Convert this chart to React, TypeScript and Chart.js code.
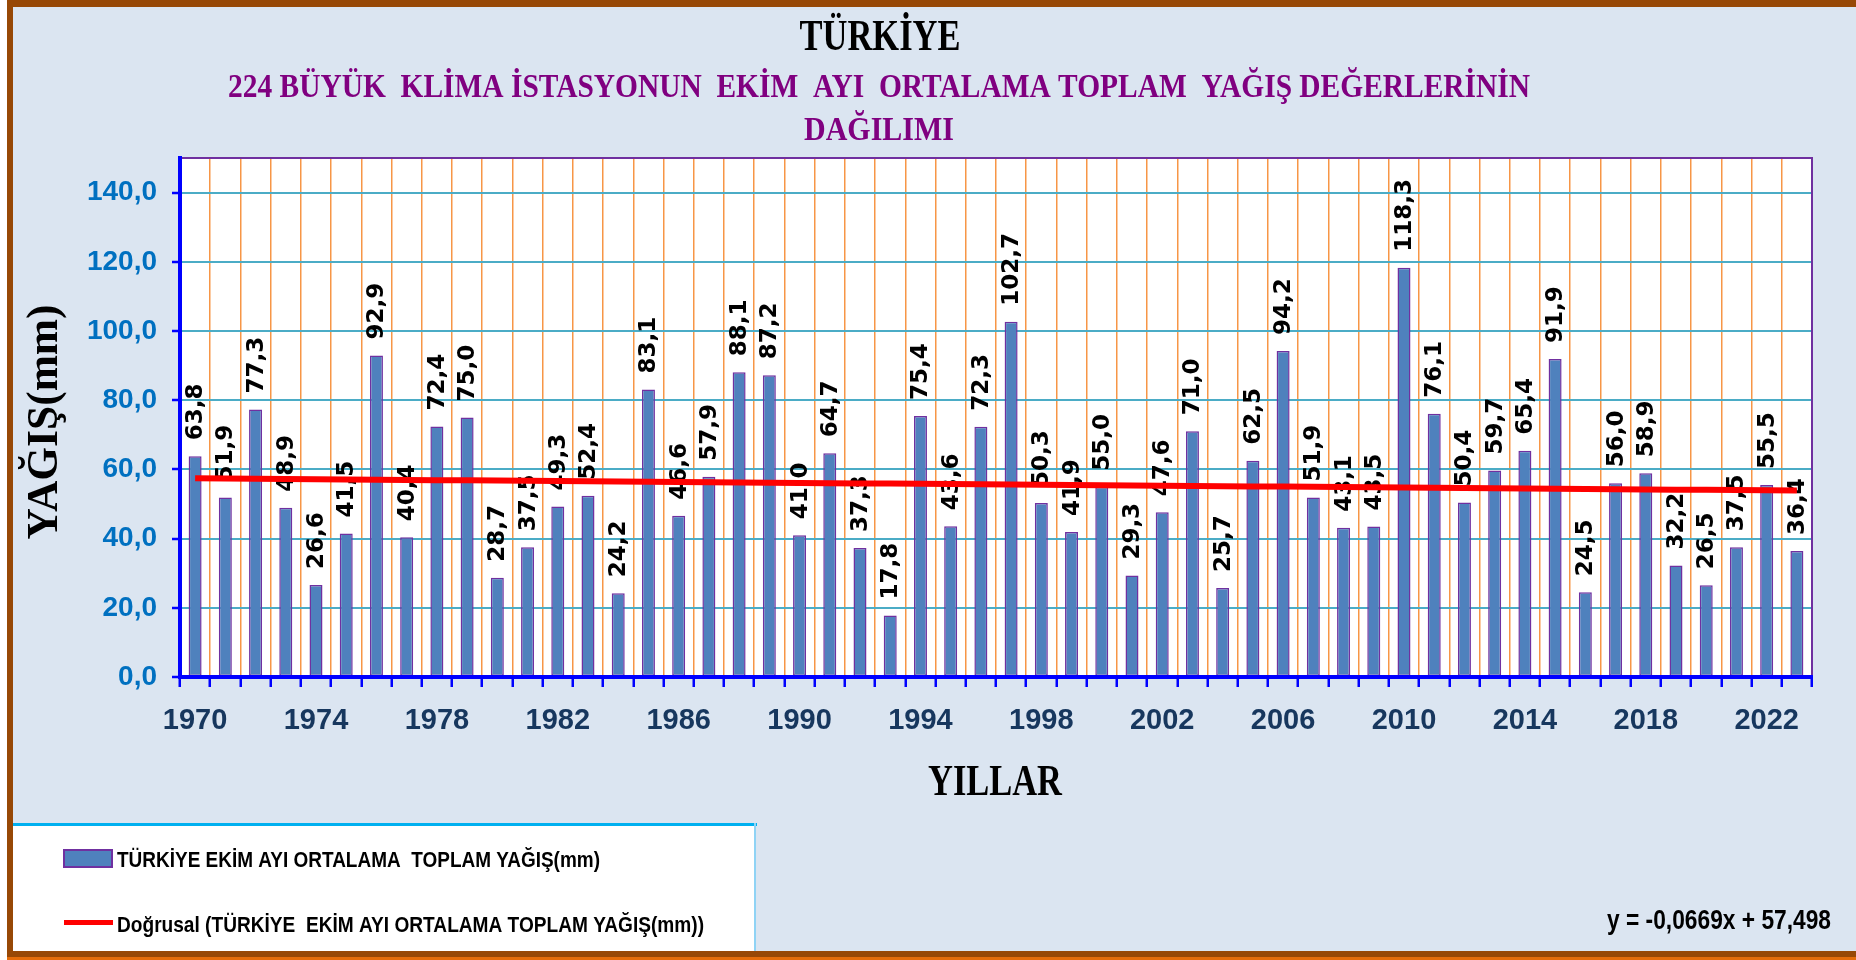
import React, { useEffect, useRef } from 'react';
import { Chart, registerables } from 'chart.js';

Chart.register(...registerables);

// ---------- data ----------
const YEARS: number[] = [
  1970, 1971, 1972, 1973, 1974, 1975, 1976, 1977, 1978, 1979,
  1980, 1981, 1982, 1983, 1984, 1985, 1986, 1987, 1988, 1989,
  1990, 1991, 1992, 1993, 1994, 1995, 1996, 1997, 1998, 1999,
  2000, 2001, 2002, 2003, 2004, 2005, 2006, 2007, 2008, 2009,
  2010, 2011, 2012, 2013, 2014, 2015, 2016, 2017, 2018, 2019,
  2020, 2021, 2022, 2023,
];

const RAIN: number[] = [
  63.8, 51.9, 77.3, 48.9, 26.6, 41.5, 92.9, 40.4, 72.4, 75.0,
  28.7, 37.5, 49.3, 52.4, 24.2, 83.1, 46.6, 57.9, 88.1, 87.2,
  41.0, 64.7, 37.3, 17.8, 75.4, 43.6, 72.3, 102.7, 50.3, 41.9,
  55.0, 29.3, 47.6, 71.0, 25.7, 62.5, 94.2, 51.9, 43.1, 43.5,
  118.3, 76.1, 50.4, 59.7, 65.4, 91.9, 24.5, 56.0, 58.9, 32.2,
  26.5, 37.5, 55.5, 36.4,
];

// linear trend shown in the chart: y = -0,0669x + 57,498 (x = 1..n)
const TREND_SLOPE = -0.0669;
const TREND_INTERCEPT = 57.498;

const Y_MIN = 0;
const Y_MAX = 150;
const Y_STEP = 20;
const X_LABEL_EVERY = 4;

const TITLE_1 = 'TÜRKİYE';
const TITLE_2 = '224 BÜYÜK  KLİMA İSTASYONUN  EKİM  AYI  ORTALAMA TOPLAM  YAĞIŞ DEĞERLERİNİN';
const TITLE_3 = 'DAĞILIMI';
const X_TITLE = 'YILLAR';
const Y_TITLE = 'YAĞIŞ(mm)';
const LEGEND_BAR = 'TÜRKİYE EKİM AYI ORTALAMA  TOPLAM YAĞIŞ(mm)';
const LEGEND_TREND = 'Doğrusal (TÜRKİYE  EKİM AYI ORTALAMA TOPLAM YAĞIŞ(mm))';
const EQUATION = 'y = -0,0669x + 57,498';

// ---------- style ----------
const W = 1856;
const H = 960;
const BG = '#DBE5F1';
const BROWN = '#974806';
const ORANGE_EDGE = '#E46C0A';
const BAR_FILL = '#4F81BD';
const BAR_BORDER = '#7030A0';
const AXIS_BLUE = '#0000FF';
const GRID_TEAL = '#4BACC6';
const GRID_ORANGE = '#F79646';
const TITLE_PURPLE = '#800080';
const NARROW = "'Liberation Sans Narrow', 'Liberation Sans', sans-serif";
const SERIF = "'Liberation Serif', 'DejaVu Serif', serif";

const fmt = (v: number) => v.toFixed(1).replace('.', ',');

function drawFitText(
  ctx: CanvasRenderingContext2D,
  text: string,
  font: string,
  color: string,
  x: number,
  y: number,
  width: number,
  align: CanvasTextAlign,
  rotate = 0,
) {
  ctx.save();
  ctx.font = font;
  ctx.fillStyle = color;
  ctx.textBaseline = 'alphabetic';
  ctx.textAlign = align;
  const m = ctx.measureText(text).width || 1;
  ctx.translate(x, y);
  if (rotate) ctx.rotate(rotate);
  ctx.scale(width / m, 1);
  ctx.fillText(text, 0, 0);
  ctx.restore();
}

const framePlugin = {
  id: 'frame',
  beforeDraw(chart: any) {
    const ctx: CanvasRenderingContext2D = chart.ctx;
    const { left, top, right, bottom } = chart.chartArea;
    ctx.save();
    ctx.fillStyle = '#FFFFFF';
    ctx.fillRect(0, 0, W, H);
    ctx.fillStyle = BG;
    ctx.fillRect(7, 0, W - 7, 957);
    ctx.fillStyle = ORANGE_EDGE;
    ctx.fillRect(7, 957, W - 7, 3);
    ctx.fillStyle = BROWN;
    ctx.fillRect(7, 0, W - 7, 7);
    ctx.fillRect(7, 0, 6, 957);
    ctx.fillRect(7, 951, W - 7, 6);
    // plot area
    ctx.fillStyle = '#FFFFFF';
    ctx.fillRect(left, top, right - left, bottom - top);
    // legend box
    ctx.fillStyle = '#FFFFFF';
    ctx.fillRect(13, 824, 742, 127);
    ctx.fillStyle = '#00B0F0';
    ctx.fillRect(13, 823, 744, 3);
    ctx.fillStyle = '#8FD3F5';
    ctx.fillRect(754, 823, 2, 128);
    ctx.restore();
  },
};

const barLabelPlugin = {
  id: 'barLabels',
  afterDatasetDraw(chart: any, args: any) {
    if (args.index !== 0) return;
    const ctx: CanvasRenderingContext2D = chart.ctx;
    ctx.save();
    ctx.font = "bold 23px 'DejaVu Sans', sans-serif";
    ctx.fillStyle = '#000000';
    ctx.textAlign = 'left';
    ctx.textBaseline = 'middle';
    args.meta.data.forEach((bar: any, i: number) => {
      ctx.save();
      ctx.translate(bar.x + 1, bar.y - 16);
      ctx.rotate(-Math.PI / 2);
      ctx.fillText(fmt(RAIN[i]), 0, 0);
      ctx.restore();
    });
    ctx.restore();
  },
};

const axesPlugin = {
  id: 'axesOverlay',
  afterDatasetsDraw(chart: any) {
    const ctx: CanvasRenderingContext2D = chart.ctx;
    const { left, top, right, bottom } = chart.chartArea;
    ctx.save();
    ctx.lineCap = 'butt';
    ctx.strokeStyle = BAR_BORDER;
    ctx.lineWidth = 2;
    ctx.beginPath();
    ctx.moveTo(left, top);
    ctx.lineTo(right, top);
    ctx.lineTo(right, bottom);
    ctx.stroke();
    ctx.strokeStyle = AXIS_BLUE;
    ctx.lineWidth = 4;
    ctx.beginPath();
    ctx.moveTo(left, top - 1);
    ctx.lineTo(left, bottom + 2);
    ctx.moveTo(left - 2, bottom);
    ctx.lineTo(right + 1, bottom);
    ctx.stroke();
    ctx.restore();
  },
};

const textPlugin = {
  id: 'texts',
  afterDraw(chart: any) {
    const ctx: CanvasRenderingContext2D = chart.ctx;
    drawFitText(ctx, TITLE_1, `bold 45px ${SERIF}`, '#000000', 880, 50, 161, 'center');
    drawFitText(ctx, TITLE_2, `bold 34px ${SERIF}`, TITLE_PURPLE, 879, 97, 1302, 'center');
    drawFitText(ctx, TITLE_3, `bold 34px ${SERIF}`, TITLE_PURPLE, 879, 140, 150, 'center');
    drawFitText(ctx, X_TITLE, `bold 45px ${SERIF}`, '#000000', 995, 795, 134, 'center');
    drawFitText(ctx, Y_TITLE, `bold 44px ${SERIF}`, '#000000', 57, 422, 235, 'center', -Math.PI / 2);

    // legend
    ctx.save();
    ctx.fillStyle = BAR_FILL;
    ctx.fillRect(64, 850, 48, 17);
    ctx.strokeStyle = BAR_BORDER;
    ctx.lineWidth = 2;
    ctx.strokeRect(64, 850, 48, 17);
    ctx.fillStyle = '#FF0000';
    ctx.fillRect(64, 920, 49, 5);
    ctx.restore();
    drawFitText(ctx, LEGEND_BAR, `bold 22px ${NARROW}`, '#000000', 117, 867, 483, 'left');
    drawFitText(ctx, LEGEND_TREND, `bold 22px ${NARROW}`, '#000000', 117, 932, 587, 'left');

    drawFitText(ctx, EQUATION, `bold 28px ${NARROW}`, '#000000', 1831, 929, 224, 'right');
  },
};

export default function App() {
  const ref = useRef<HTMLCanvasElement | null>(null);

  useEffect(() => {
    if (!ref.current) return;
    const trend = YEARS.map((_, i) => TREND_INTERCEPT + TREND_SLOPE * (i + 1));
    const chart = new Chart(ref.current, {
      type: 'bar',
      data: {
        labels: YEARS.map(String),
        datasets: [
          {
            type: 'bar',
            label: LEGEND_BAR,
            data: RAIN,
            backgroundColor: BAR_FILL,
            borderColor: BAR_BORDER,
            borderWidth: 1.5,
            borderSkipped: false,
            barPercentage: 0.43,
            categoryPercentage: 1,
            order: 2,
          } as any,
          {
            type: 'line',
            label: LEGEND_TREND,
            data: trend,
            borderColor: '#FF0000',
            borderWidth: 6,
            pointRadius: 0,
            tension: 0,
            order: 1,
          } as any,
        ],
      },
      options: {
        animation: false,
        responsive: false,
        maintainAspectRatio: false,
        devicePixelRatio: 1,
        events: [],
        layout: { padding: { left: 60, top: 158, right: 44, bottom: 223 } },
        plugins: {
          legend: { display: false },
          title: { display: false },
          tooltip: { enabled: false },
        },
        scales: {
          x: {
            offset: true,
            grid: {
              offset: true,
              color: GRID_ORANGE,
              lineWidth: 1.5,
              tickColor: AXIS_BLUE,
              tickLength: 10,
              tickWidth: 2.5,
            } as any,
            border: { color: AXIS_BLUE, width: 4 },
            ticks: {
              autoSkip: false,
              maxRotation: 0,
              minRotation: 0,
              padding: 17,
              color: '#17375E',
              font: { family: NARROW, size: 29, weight: 'bold' },
              callback: (_v: any, i: number) => (i % X_LABEL_EVERY === 0 ? String(YEARS[i]) : ''),
            },
            afterFit: (s: any) => {
              s.height = 60;
            },
          },
          y: {
            min: Y_MIN,
            max: Y_MAX,
            grid: {
              color: GRID_TEAL,
              lineWidth: 2,
              tickColor: AXIS_BLUE,
              tickLength: 8,
              tickWidth: 2.5,
            } as any,
            border: { color: AXIS_BLUE, width: 4 },
            ticks: {
              stepSize: Y_STEP,
              includeBounds: false,
              padding: 15,
              color: '#0070C0',
              font: { family: NARROW, size: 28, weight: 'bold' },
              callback: (v: any) => fmt(Number(v)),
            },
            afterFit: (s: any) => {
              s.width = 120;
            },
          },
        },
      } as any,
      plugins: [framePlugin, barLabelPlugin, axesPlugin, textPlugin],
    });
    return () => chart.destroy();
  }, []);

  return (
    <canvas
      ref={ref}
      width={W}
      height={H}
      style={{ position: 'absolute', left: 0, top: 0, width: W, height: H, display: 'block' }}
    />
  );
}
